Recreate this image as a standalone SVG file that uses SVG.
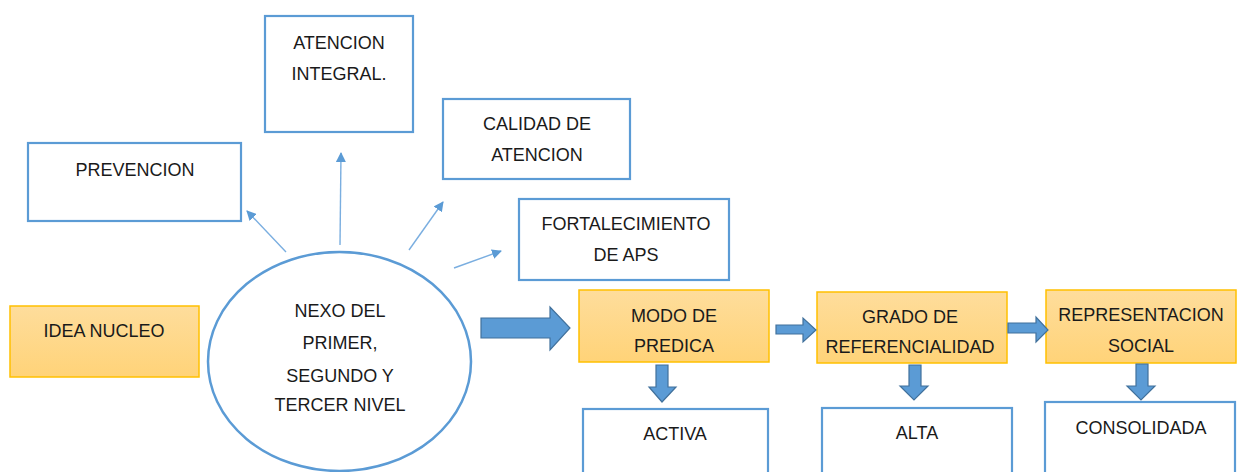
<svg xmlns="http://www.w3.org/2000/svg" width="1245" height="472" viewBox="0 0 1245 472">
<defs>
<linearGradient id="og" x1="0" y1="0" x2="0" y2="1">
<stop offset="0" stop-color="#fedd9c"/>
<stop offset="1" stop-color="#ffd378"/>
</linearGradient>
<marker id="ah" markerWidth="10" markerHeight="10" refX="9" refY="5" orient="auto" markerUnits="userSpaceOnUse" viewBox="0 0 10 10">
<path d="M0,0 L10,5 L0,10 z" fill="#5b9bd5"/>
</marker>
</defs>
<style>
.bx{fill:#ffffff;stroke:#5b9bd5;stroke-width:2.2}
.ob{fill:url(#og);stroke:#ffc000;stroke-width:1.5}
.t{font-family:"Liberation Sans",Arial,sans-serif;font-size:18px;fill:#1a1a1a;text-anchor:middle}
.ln{stroke:#7aaee0;stroke-width:1.4;fill:none}
.ba{fill:#5b9bd5;stroke:#41719c;stroke-width:1.2}
</style>
<rect width="1245" height="472" fill="#ffffff"/>
<g id="prevencion"><rect class="bx" x="28" y="143" width="213" height="78"/><text class="t" x="135" y="176">PREVENCION</text></g>
<g id="atencion-integral"><rect class="bx" x="265" y="16" width="148" height="116"/><text class="t" x="339" y="49">ATENCION</text><text class="t" x="339" y="80">INTEGRAL.</text></g>
<g id="calidad"><rect class="bx" x="443" y="99" width="187" height="80"/><text class="t" x="537" y="130">CALIDAD DE</text><text class="t" x="537" y="161">ATENCION</text></g>
<g id="fortalecimiento"><rect class="bx" x="519" y="199" width="210" height="81"/><text class="t" x="626" y="230">FORTALECIMIENTO</text><text class="t" x="626" y="261">DE APS</text></g>
<g id="idea-nucleo"><rect class="ob" x="10" y="306" width="189" height="71"/><text class="t" x="104" y="337">IDEA NUCLEO</text></g>
<g id="nexo"><ellipse cx="339.5" cy="361.5" rx="131.5" ry="109.5" fill="#ffffff" stroke="#5b9bd5" stroke-width="2.5"/><text class="t" x="340" y="317">NEXO DEL</text><text class="t" x="340" y="349">PRIMER,</text><text class="t" x="340" y="382">SEGUNDO Y</text><text class="t" x="340" y="411">TERCER NIVEL</text></g>
<g id="modo"><rect class="ob" x="579" y="290" width="190" height="72"/><text class="t" x="674" y="322">MODO DE</text><text class="t" x="674" y="352">PREDICA</text></g>
<g id="grado"><rect class="ob" x="817" y="292" width="190" height="71"/><text class="t" x="910" y="323">GRADO DE</text><text class="t" x="910" y="353">REFERENCIALIDAD</text></g>
<g id="representacion"><rect class="ob" x="1046" y="290" width="190" height="73"/><text class="t" x="1141" y="321">REPRESENTACION</text><text class="t" x="1141" y="352">SOCIAL</text></g>
<g id="activa"><rect class="bx" x="583" y="409" width="185" height="75"/><text class="t" x="675" y="440">ACTIVA</text></g>
<g id="alta"><rect class="bx" x="822" y="408" width="190" height="76"/><text class="t" x="917" y="439">ALTA</text></g>
<g id="consolidada"><rect class="bx" x="1045" y="402" width="190" height="82"/><text class="t" x="1141" y="434">CONSOLIDADA</text></g>
<g id="connectors">
<line class="ln" x1="286" y1="252" x2="247" y2="211" marker-end="url(#ah)"/>
<line class="ln" x1="340" y1="245" x2="341" y2="153" marker-end="url(#ah)"/>
<line class="ln" x1="409" y1="250" x2="443" y2="202" marker-end="url(#ah)"/>
<line class="ln" x1="454" y1="268" x2="501" y2="251" marker-end="url(#ah)"/>
<path class="ba" d="M481,318 L550,318 L550,307 L570,328 L550,350 L550,338 L481,338 Z"/>
<path class="ba" d="M776,325 L803,325 L803,318 L816,330 L803,342 L803,334 L776,334 Z"/>
<path class="ba" d="M1008,323 L1036,323 L1036,317 L1048,330 L1036,342 L1036,333 L1008,333 Z"/>
<path class="ba" d="M656,365 L668,365 L668,387 L676,387 L662,402 L649,387 L656,387 Z"/>
<path class="ba" d="M909,365 L921,365 L921,386 L928,386 L914,400 L900,386 L909,386 Z"/>
<path class="ba" d="M1136,364 L1148,364 L1148,386 L1155,386 L1141,400 L1127,386 L1136,386 Z"/>
</g>
</svg>
